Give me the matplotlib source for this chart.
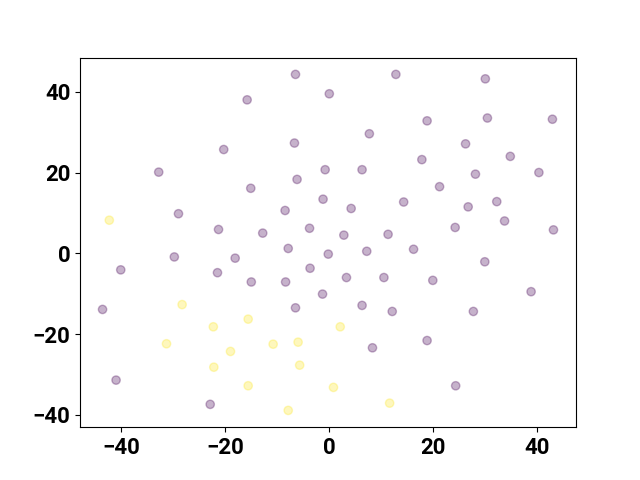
import matplotlib
matplotlib.use("Agg")
import matplotlib.pyplot as plt

# purple cluster (label 0)
x0 = [-6.5, 12.8, -15.8, 0.0, 30.0, 7.7, 18.8, 30.4, 42.9, -20.3, -6.7, 26.2,
      -32.8, -0.8, 6.3, 17.8, 28.1, 34.8, 40.3, -6.2, -15.1, 21.2, -29.0, -8.5,
      -1.2, 4.2, 14.3, 26.7, 32.2, -21.3, -12.8, -3.8, 2.8, 11.3, 24.2, 33.7,
      43.1, -29.8, -40.1, -18.1, -7.9, -0.2, 7.2, 16.2, -21.5, -15.0, -8.4,
      -3.7, 3.3, 10.5, 19.9, 29.9, -43.6, -6.5, -1.3, 6.3, 12.1, 27.7, 38.8,
      8.3, 18.8, -41.0, 24.3, -22.9]
y0 = [44.3, 44.3, 38.0, 39.5, 43.2, 29.6, 32.8, 33.5, 33.2, 25.7, 27.3, 27.1,
      20.1, 20.7, 20.7, 23.2, 19.6, 24.0, 20.0, 18.3, 16.1, 16.5, 9.8, 10.6,
      13.4, 11.1, 12.7, 11.5, 12.8, 5.9, 5.0, 6.2, 4.5, 4.7, 6.4, 8.0,
      5.8, -0.9, -4.1, -1.2, 1.2, -0.2, 0.5, 1.0, -4.8, -7.1, -7.1,
      -3.7, -6.0, -6.0, -6.7, -2.1, -13.9, -13.5, -10.1, -12.9, -14.4, -14.4, -9.5,
      -23.4, -21.6, -31.4, -32.8, -37.4]

# yellow cluster (label 1)
x1 = [-42.3, -28.3, -15.6, -22.3, -31.3, -10.8, -6.0, -19.0, -22.2, -5.7,
      -15.6, 0.8, -7.9, 2.1, 11.6]
y1 = [8.2, -12.7, -16.3, -18.2, -22.4, -22.5, -22.0, -24.3, -28.2, -27.7,
      -32.8, -33.2, -38.9, -18.2, -37.1]

xs = x0 + x1
ys = y0 + y1
labels = [0] * len(x0) + [1] * len(x1)

plt.rcParams["font.family"] = ["Roboto", "DejaVu Sans"]
plt.rcParams["font.weight"] = "bold"

fig = plt.figure(figsize=(6.4, 4.8), dpi=100)
plt.scatter(xs, ys, c=labels, cmap="viridis", alpha=0.3)
plt.xticks(fontsize=16, fontweight="bold")
plt.yticks(fontsize=16, fontweight="bold")
plt.savefig("out.png")
